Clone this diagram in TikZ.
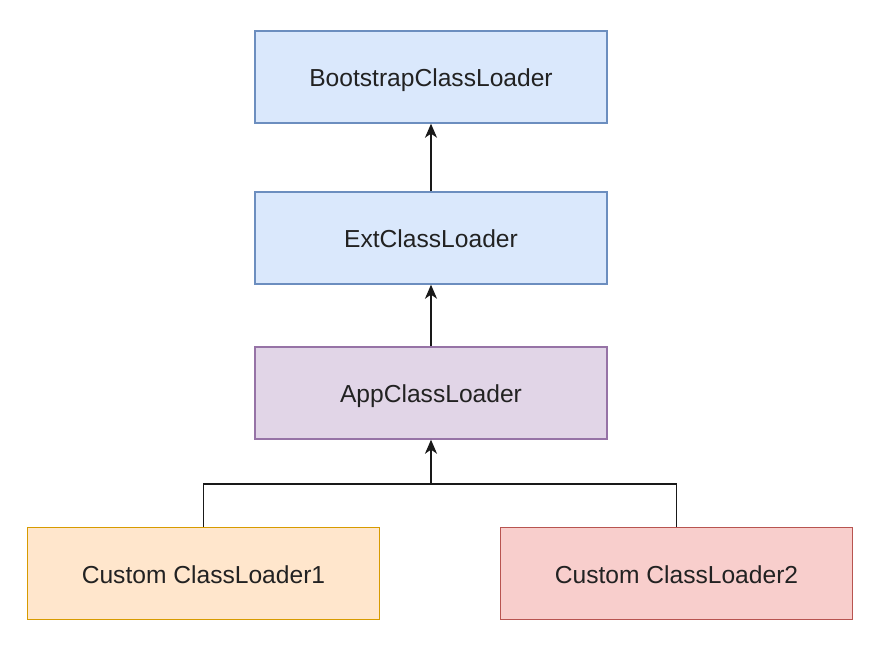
\documentclass[tikz,border=0pt]{standalone}
\usepackage{fontspec}
\setmainfont{Liberation Sans}
\usetikzlibrary{arrows.meta}
\definecolor{bluefill}{HTML}{DAE8FC}
\definecolor{bluedraw}{HTML}{6C8EBF}
\definecolor{purplefill}{HTML}{E1D5E7}
\definecolor{purpledraw}{HTML}{9673A6}
\definecolor{orangefill}{HTML}{FFE6CC}
\definecolor{orangedraw}{HTML}{D79B00}
\definecolor{redfill}{HTML}{F8CECC}
\definecolor{reddraw}{HTML}{B85450}
\definecolor{txt}{HTML}{222222}
\tikzset{
  box/.style={draw, line width=1.4pt, minimum width=352pt, minimum height=92pt,
    inner sep=0pt, text=txt, text height=19.6pt, text depth=0pt,
    font=\fontsize{24.6pt}{29pt}\selectfont},
  bluebox/.style={box, fill=bluefill, draw=bluedraw},
  purplebox/.style={box, fill=purplefill, draw=purpledraw},
  orangebox/.style={box, fill=orangefill, draw=orangedraw},
  redbox/.style={box, fill=redfill, draw=reddraw},
  conn/.style={line width=1.4pt, draw=black!90},
  arr/.style={conn, -{Stealth[length=14pt,width=12pt,inset=4pt]}}
}
\begin{document}
\begin{tikzpicture}[x=1pt,y=-1pt]
\useasboundingbox (0,0) rectangle (872,657);
\node[bluebox] (boot) at (431,77) {BootstrapClassLoader};
\node[bluebox] (ext) at (431,238) {ExtClassLoader};
\node[purplebox] (app) at (431,393) {AppClassLoader};
\node[orangebox] (c1) at (203.5,573.5) {Custom ClassLoader1};
\node[redbox] (c2) at (676.5,573.5) {Custom ClassLoader2};
\coordinate (j) at (431,484);
\draw[arr] (ext.north) -- (boot.south);
\draw[arr] (app.north) -- (ext.south);
\draw[conn] (c1.north) |- (j);
\draw[conn] (c2.north) |- (j);
\draw[arr] (j) -- (app.south);
\end{tikzpicture}
\end{document}
